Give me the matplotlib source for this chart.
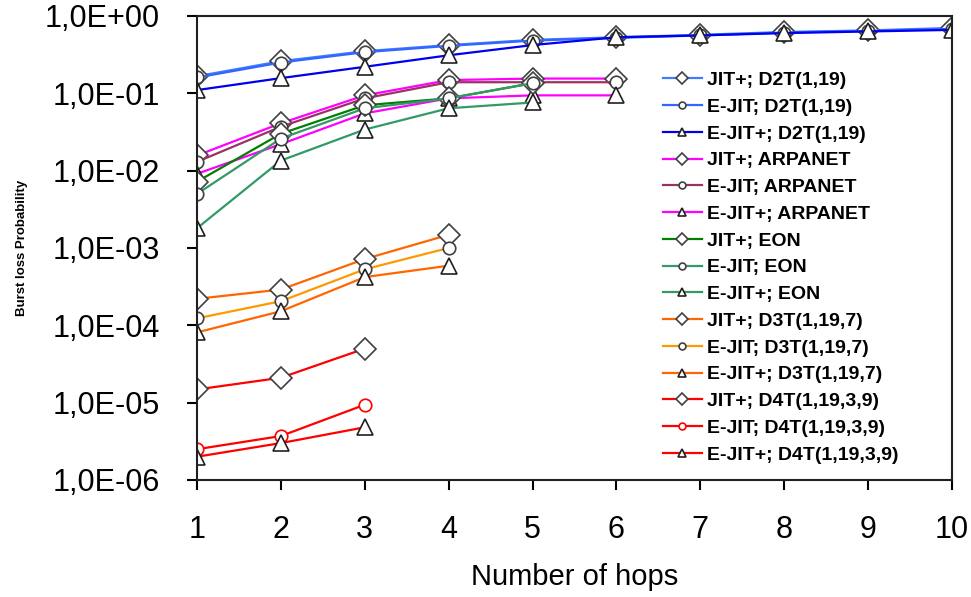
import matplotlib.pyplot as plt

plt.rcParams['font.family'] = ['Liberation Sans', 'DejaVu Sans']

# 跳数
hops = [1, 2, 3, 4, 5, 6, 7, 8, 9, 10]

# D2T(1,19)
jitp_d2t = [0.166, 0.26, 0.35, 0.42, 0.49, 0.53, 0.57, 0.62, 0.65, 0.70]
ejit_d2t = [0.160, 0.25, 0.34, 0.41, 0.48, 0.52, 0.56, 0.61, 0.64, 0.68]
ejitp_d2t = [0.110, 0.157, 0.22, 0.31, 0.42, 0.53, 0.56, 0.60, 0.63, 0.66]

# ARPANET
jitp_arpa = [0.0157, 0.041, 0.094, 0.148, 0.155, 0.155]
ejit_arpa = [0.013, 0.037, 0.086, 0.139, 0.139, 0.139]
ejitp_arpa = [0.0091, 0.022, 0.055, 0.086, 0.094, 0.094]

# EON
jitp_eon = [0.0072, 0.030, 0.070, 0.086, 0.135]
ejit_eon = [0.0050, 0.026, 0.064, 0.086, 0.135]
ejitp_eon = [0.0018, 0.0135, 0.034, 0.064, 0.076]

# D3T(1,19,7)
jitp_d3t = [2.2e-4, 2.9e-4, 7.2e-4, 1.48e-3]
ejit_d3t = [1.23e-4, 2.05e-4, 5.3e-4, 1.0e-3]
ejitp_d3t = [8.1e-5, 1.52e-4, 4.2e-4, 5.9e-4]

# D4T(1,19,3,9)
jitp_d4t = [1.48e-5, 2.1e-5, 5.0e-5]
ejit_d4t = [2.5e-6, 3.7e-6, 9.4e-6]
ejitp_d4t = [2.0e-6, 3.0e-6, 4.8e-6]

series = [
    ("JIT+; D2T(1,19)", jitp_d2t, "#3d7bff", "D", "#404040"),
    ("E-JIT; D2T(1,19)", ejit_d2t, "#3366ff", "o", "#404040"),
    ("E-JIT+; D2T(1,19)", ejitp_d2t, "#0000ee", "^", "#202020"),
    ("JIT+; ARPANET", jitp_arpa, "#ff00ff", "D", "#404040"),
    ("E-JIT; ARPANET", ejit_arpa, "#993366", "o", "#404040"),
    ("E-JIT+; ARPANET", ejitp_arpa, "#ff00ff", "^", "#202020"),
    ("JIT+; EON", jitp_eon, "#008000", "D", "#404040"),
    ("E-JIT; EON", ejit_eon, "#339966", "o", "#404040"),
    ("E-JIT+; EON", ejitp_eon, "#339966", "^", "#202020"),
    ("JIT+; D3T(1,19,7)", jitp_d3t, "#ff6600", "D", "#404040"),
    ("E-JIT; D3T(1,19,7)", ejit_d3t, "#ff9900", "o", "#404040"),
    ("E-JIT+; D3T(1,19,7)", ejitp_d3t, "#ff6600", "^", "#202020"),
    ("JIT+; D4T(1,19,3,9)", jitp_d4t, "#ff0000", "D", "#404040"),
    ("E-JIT; D4T(1,19,3,9)", ejit_d4t, "#ff0000", "o", "#ff0000"),
    ("E-JIT+; D4T(1,19,3,9)", ejitp_d4t, "#ff0000", "^", "#202020"),
]

msize = {"D": 11, "o": 9, "^": 11}

fig = plt.figure(figsize=(9.71, 5.97), dpi=100)
ax = fig.add_axes([0.2029, 0.196, 0.7775, 0.7773])

for label, vals, color, mk, edge in series:
    ax.plot(hops[:len(vals)], vals, color=color, linewidth=1.6,
            marker=mk, markersize=msize[mk], markerfacecolor='white',
            markeredgecolor=edge, markeredgewidth=1.2, label=label)

ax.set_yscale('log')
ax.set_xlim(1, 10)
ax.set_ylim(1e-6, 1.0)
ax.set_xticks(hops)
ax.set_yticks([1e0, 1e-1, 1e-2, 1e-3, 1e-4, 1e-5, 1e-6])
ax.set_yticklabels(['1,0E+00', '1,0E-01', '1,0E-02', '1,0E-03',
                    '1,0E-04', '1,0E-05', '1,0E-06'])
ax.minorticks_off()
ax.tick_params(axis='both', direction='out', length=7, width=1.5,
               labelsize=22)
ax.tick_params(axis='y', pad=20)
ax.tick_params(axis='x', pad=18)
for sp in ax.spines.values():
    sp.set_linewidth(1.5)
    sp.set_color('#202020')

ax.set_xlabel('Number of hops', fontsize=21, labelpad=13)
ax.set_ylabel('Burst loss Probability', fontsize=9.5, fontweight='bold',
              labelpad=12)

leg = ax.legend(loc='upper left', bbox_to_anchor=(0.617, 0.88),
                frameon=False, prop={'size': 14, 'weight': 'bold'},
                handlelength=2.0, handletextpad=0.25, labelspacing=0.47,
                markerscale=0.55, borderaxespad=0, borderpad=0)

fig.savefig('out.png', dpi=100)
